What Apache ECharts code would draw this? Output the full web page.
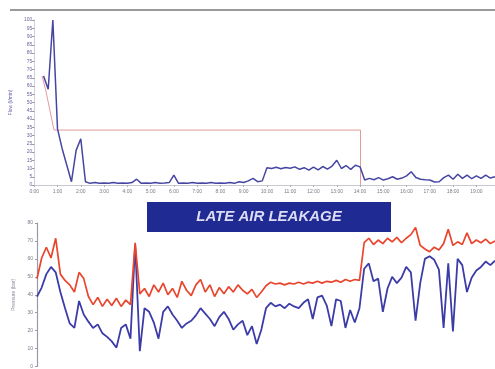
<!DOCTYPE html>
<html>
<head>
<meta charset="utf-8">
<script src="https://cdn.jsdelivr.net/npm/echarts@6/dist/echarts.min.js"></script>
<style>
  html, body { margin: 0; padding: 0; background: #ffffff; }
  #chart { width: 495px; height: 369px; }
</style>
</head>
<body>
<div id="chart"></div>
<script>
// Time base: samples every 0.2 h starting at 0.2 h
const SAMPLE_START = 0.2;
const SAMPLE_STEP = 0.2;

// Hour tick labels along the upper time axis
const xTickLabels = ['0:00','1:00','2:00','3:00','4:00','5:00','6:00','7:00','8:00','9:00',
  '10:00','11:00','12:00','13:00','14:00','15:00','16:00','17:00','18:00','19:00'];

// Upper panel: measured leakage flow (blue), one row per hour
const flowValues = [
  null, 66, 58, 100,
  34, 22, 12, 2, 21,
  28, 2, 1, 1.5, 1,
  1.2, 1, 1.5, 1, 1.2,
  1, 1.5, 3.5, 1, 1.2,
  1, 1.5, 1, 1.2, 1.5,
  6, 1, 1.2, 1, 1.5,
  1, 1.2, 1, 1.5, 1,
  1.2, 1, 1.5, 1, 2,
  1.5, 2.5, 4, 2, 2.5,
  10.5, 10, 10.8, 9.8, 10.6,
  10.2, 11, 9.5, 10.5, 9,
  10.8, 9.2, 11.2, 9.6, 11.5,
  15, 10, 11.8, 9.5, 12,
  11, 3, 4, 3.2, 4.5,
  3, 3.8, 5, 3.5, 4.2,
  5.5, 8, 4.5, 3.5, 3.2,
  3, 1.8, 2, 4.5, 6,
  3.5, 6.5, 4, 6, 3.8,
  5.5, 4, 6, 4.2, 5
];

// Upper panel: leakage limit trace (red)
const limitTimes  = [0.34, 0.5, 0.75, 0.85, 14.02, 14.02];
const limitValues = [66, 57, 40, 33.3, 33.3, 0];

// Lower panel: supply pressure (red), one row per hour
const supplyValues = [
  49, 60.5, 66.5, 60.5,
  71.5, 51.5, 48, 45.5, 41.5,
  52.5, 49, 39, 34.5, 38.5,
  33.5, 37.5, 34, 38, 33.5,
  37, 34.5, 69, 40.5, 43.5,
  39, 45.5, 41.5, 46.5, 40,
  43.5, 38.5, 47.5, 42.5, 39.5,
  45.5, 48.5, 41.5, 45.5, 39,
  44, 40.5, 44.5, 41.5, 45.5,
  42.5, 40.5, 43, 38.5, 41.5,
  45, 47, 46, 46.5, 45.5,
  46.5, 46, 47, 46, 47,
  46.5, 47.5, 46.5, 47.5, 47,
  48, 47, 48.5, 47.5, 48.5,
  48, 69, 71.5, 68, 70.5,
  68.5, 71.5, 69.5, 72, 69,
  71.5, 73.5, 77.5, 67.5, 65.5,
  64, 66.5, 65, 68.5, 76.5,
  67.5, 69.5, 68, 74.5, 68.5,
  70.5, 69, 71, 68.5, 70
];

// Lower panel: line pressure (blue), one row per hour
const lineValues = [
  39, 44, 51.5, 55.5,
  52.5, 41.5, 32.5, 24, 21.5,
  36.5, 29, 25, 21.5, 23.5,
  18.5, 16.5, 14, 10.5, 21.5,
  23.5, 15.5, 68, 8.5, 32.5,
  30.5, 24.5, 15.5, 30.5, 33.5,
  29, 25.5, 21.5, 24, 25.5,
  28.5, 32.5, 29.5, 26.5, 22.5,
  27.5, 30.5, 26.5, 20.5, 23.5,
  25.5, 17.5, 22.5, 12.5, 20.5,
  32.5, 35.5, 33.5, 34.5, 32.5,
  35, 33.5, 32.5, 35.5, 37.5,
  26.5, 38.5, 39.5, 34, 22.5,
  37.5, 36.5, 21.5, 31.5, 24.5,
  32.5, 54.5, 57.5, 47.5, 49,
  30.5, 43.5, 50, 46.5, 49.5,
  55.5, 52.5, 25.5, 46.5, 60,
  61.5, 59.5, 54, 21.5, 57.5,
  19.5, 60, 56.5, 41.5, 49.5,
  53.5, 55.5, 58.5, 56.5, 59
];

const bannerText = 'LATE AIR LEAKAGE';

function timed(values) {
  return values.map((v, i) => [+(SAMPLE_START + i * SAMPLE_STEP).toFixed(2), v]);
}

const chart = echarts.init(document.getElementById('chart'), null, { renderer: 'canvas' });

const tinyLabel = { fontSize: 5, color: '#7a7a8a', fontFamily: 'Liberation Sans' };

chart.setOption({
  animation: false,
  backgroundColor: '#ffffff',
  grid: [
    { left: 32, right: 0, top: 20, height: 165 },
    { left: 37, right: 0, top: 223, height: 160 }
  ],
  xAxis: [
    {
      gridIndex: 0, type: 'value', min: 0, max: 19.8, interval: 1,
      axisLine: { lineStyle: { color: '#c8c8d0', width: 1 } },
      axisTick: { show: true, length: 2, lineStyle: { color: '#b0b0b8' } },
      axisLabel: Object.assign({ margin: 4, showMaxLabel: false,
        formatter: v => xTickLabels[Math.round(v)] || '' }, tinyLabel),
      splitLine: { show: false }
    },
    {
      gridIndex: 1, type: 'value', min: 0.2, max: 19.8,
      axisLine: { show: false }, axisTick: { show: false },
      axisLabel: { show: false }, splitLine: { show: false }
    }
  ],
  yAxis: [
    {
      gridIndex: 0, type: 'value', min: 0, max: 100, interval: 5,
      name: 'Flow (l/min)', nameLocation: 'middle', nameGap: 18, nameRotate: 90,
      nameTextStyle: { fontSize: 5, color: '#5a5aa8' },
      axisLine: { show: true, lineStyle: { color: '#d0d0d8' } },
      axisTick: { show: true, length: 2, lineStyle: { color: '#8888a8' } },
      axisLabel: Object.assign({ margin: 2 }, tinyLabel, { color: '#6a6a98' }),
      splitLine: { show: false }
    },
    {
      gridIndex: 1, type: 'value', min: 0, max: 80, interval: 10,
      name: 'Pressure (bar)', nameLocation: 'middle', nameGap: 19, nameRotate: 90,
      nameTextStyle: { fontSize: 5, color: '#8a8a98' },
      axisLine: { show: true, lineStyle: { color: '#9a9aa8', width: 1.2 } },
      axisTick: { show: true, length: 2, lineStyle: { color: '#9a9aa8' } },
      axisLabel: Object.assign({ margin: 4 }, tinyLabel),
      splitLine: { show: false }
    }
  ],
  series: [
    {
      name: 'Flow', type: 'line', xAxisIndex: 0, yAxisIndex: 0,
      data: timed(flowValues), showSymbol: false, symbol: 'none',
      lineStyle: { color: '#4646a2', width: 1.5 }, z: 3
    },
    {
      name: 'Limit', type: 'line', xAxisIndex: 0, yAxisIndex: 0,
      data: limitTimes.map((t, i) => [t, limitValues[i]]), showSymbol: false, symbol: 'none',
      lineStyle: { color: '#e49a9a', width: 1 }, z: 2
    },
    {
      name: 'Line', type: 'line', xAxisIndex: 1, yAxisIndex: 1,
      data: timed(lineValues), showSymbol: false, symbol: 'none',
      lineStyle: { color: '#3c3ca8', width: 1.8 }, z: 2
    },
    {
      name: 'Supply', type: 'line', xAxisIndex: 1, yAxisIndex: 1,
      data: timed(supplyValues), showSymbol: false, symbol: 'none',
      lineStyle: { color: '#e8452c', width: 1.7 }, z: 3
    }
  ],
  graphic: [
    {
      type: 'line', shape: { x1: 10, y1: 10, x2: 495, y2: 10 },
      style: { stroke: '#9a9a9a', lineWidth: 2 }
    },
    {
      type: 'rect', shape: { x: 147, y: 202, width: 244, height: 30 },
      style: { fill: '#1f2a92' }, z: 10
    },
    {
      type: 'text', x: 269, y: 217, z: 11,
      style: {
        text: bannerText, fill: '#dcdcf4', align: 'center', verticalAlign: 'middle',
        font: 'italic bold 15px "Liberation Sans", Arial, sans-serif'
      }
    }
  ]
});
</script>
</body>
</html>
